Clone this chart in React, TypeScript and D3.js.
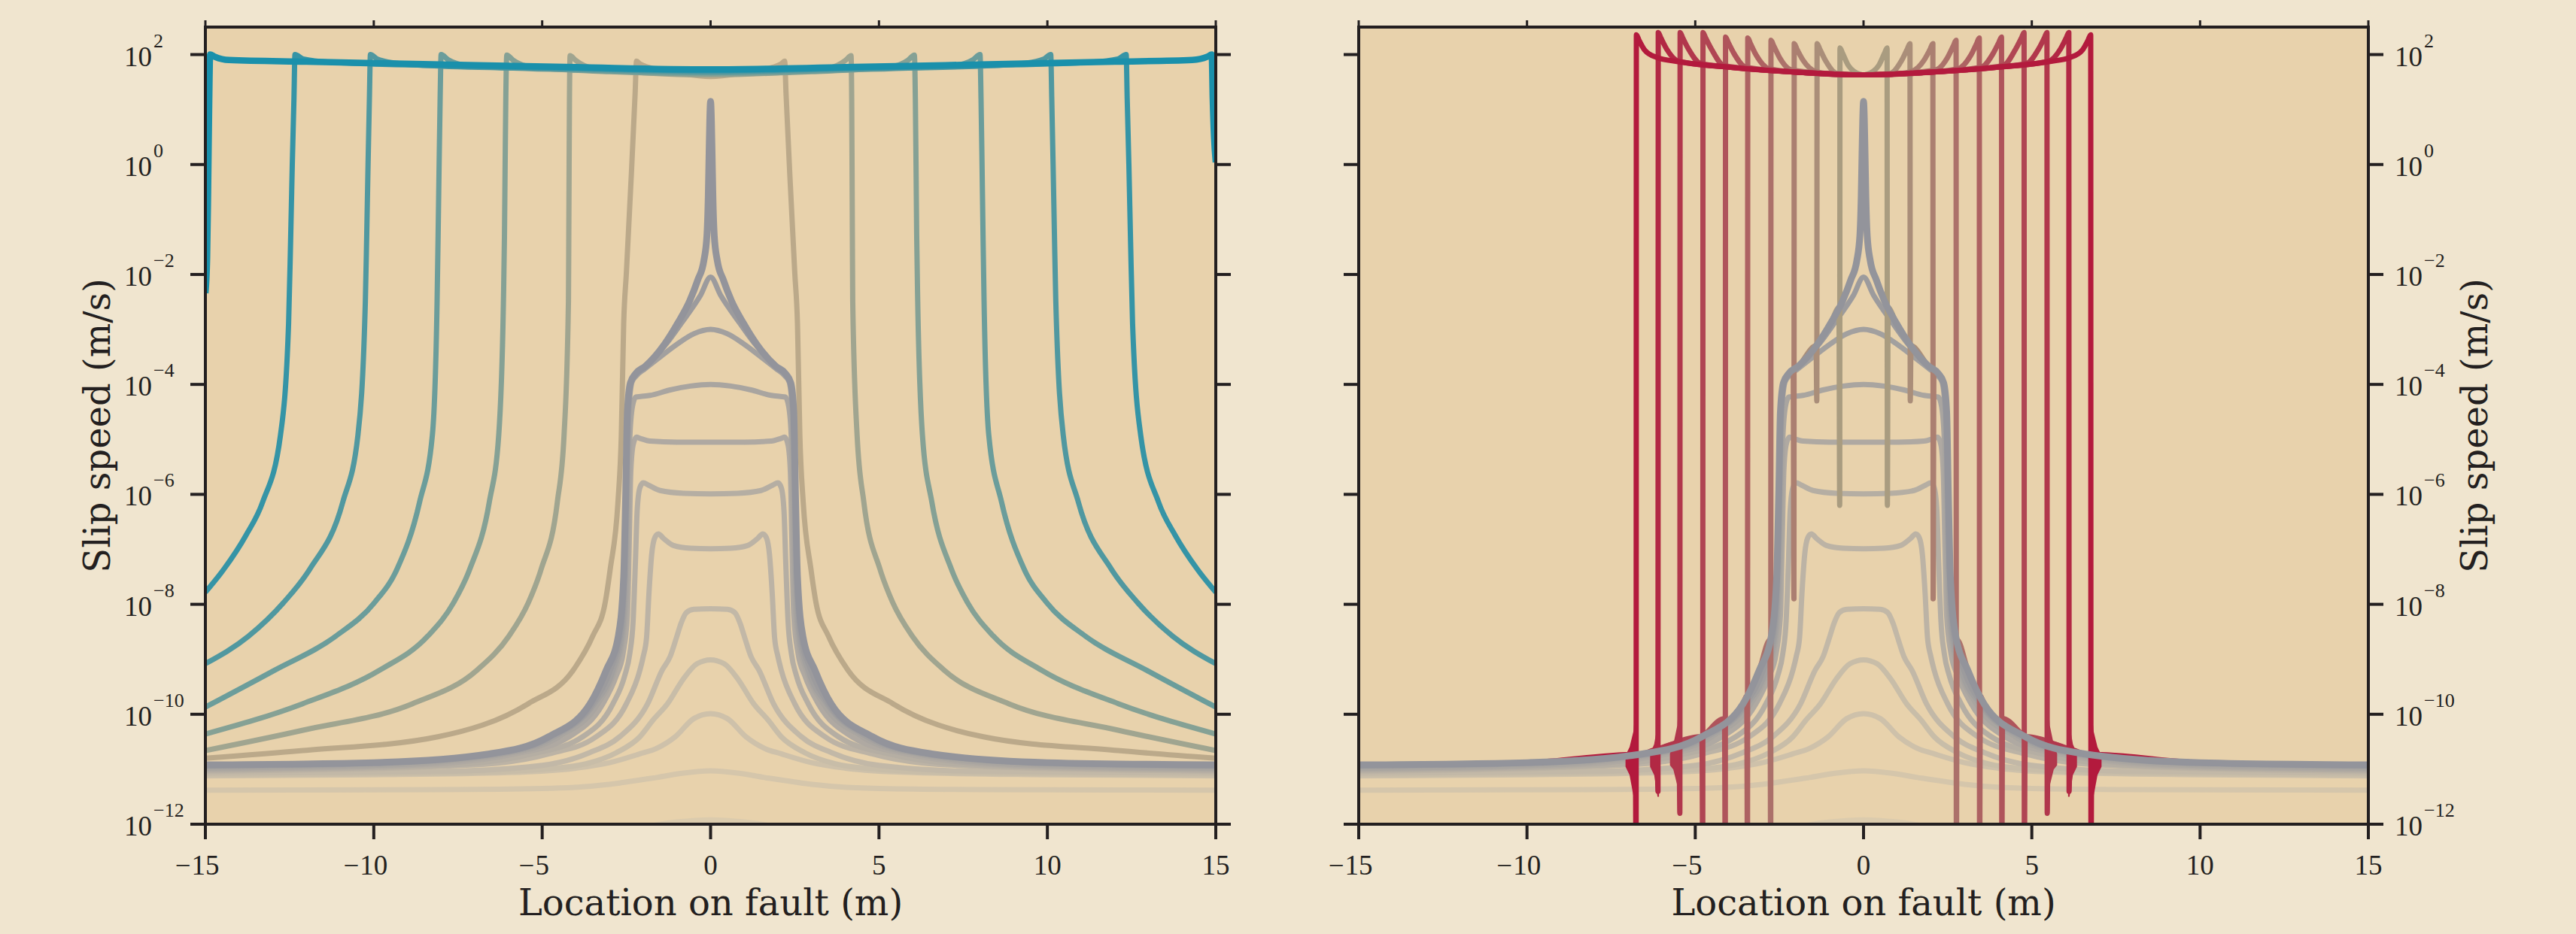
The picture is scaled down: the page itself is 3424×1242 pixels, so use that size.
import React from "react";
import * as d3 from "d3";

type Pt = [number, number];

// ---------- layout / style ----------
const WIDTH = 3424;
const HEIGHT = 1242;
const TOP = 36;
const BOTTOM = 1096;
const FIG_BG = "#F0E5CF";
const AX_BG = "#E8D2AC";
const INK = "#231F20";

// ---------- axes data ----------
const X_DOMAIN: [number, number] = [-15, 15];
const Y_DOMAIN: [number, number] = [1e-12, Math.pow(10, 2.5)];
const X_TICKS = [-15, -10, -5, 0, 5, 10, 15];
const Y_TICK_EXPONENTS = [2, 0, -2, -4, -6, -8, -10, -12];
const X_LABEL = "Location on fault (m)";
const Y_LABEL = "Slip speed (m/s)";

// ---------- nucleation profiles: half profiles [x (m), log10 V] for x >= 0 ----------
const NUC_0: Pt[] = [[0, -11.92], [1, -11.96], [2, -12.05], [3, -12.15], [4.5, -12.25], [7, -12.3], [15, -12.3]];
const NUC_1: Pt[] = [[0, -11.03], [0.8, -11.07], [1.6, -11.15], [2.7, -11.25], [3.8, -11.32], [5, -11.35], [8, -11.37], [15, -11.38]];
const NUC_2: Pt[] = [[0, -9.99], [0.5, -10.08], [1.05, -10.41], [1.6, -10.62], [2.1, -10.72], [3, -10.88], [4, -10.98], [6, -11.06], [10, -11.1], [15, -11.12]];
const NUC_3: Pt[] = [[0, -9.01], [0.4, -9.08], [0.8, -9.35], [1.28, -9.81], [1.7, -10.1], [2.1, -10.41], [2.8, -10.7], [3.7, -10.9], [5, -11.0], [8, -11.07], [15, -11.1]];
const NUC_4: Pt[] = [[0, -8.08], [0.5, -8.09], [0.72, -8.15], [0.88, -8.35], [1.0, -8.58], [1.2, -8.95], [1.44, -9.2], [1.87, -9.81], [2.7, -10.41], [3.6, -10.7], [5, -10.93], [8, -11.04], [15, -11.07]];
const NUC_5: Pt[] = [[0, -6.99], [0.6, -6.98], [1.1, -6.93], [1.4, -6.8], [1.55, -6.72], [1.65, -6.78], [1.75, -7.1], [1.83, -7.8], [1.9, -8.6], [2.0, -8.95], [2.1, -9.2], [2.5, -9.81], [3.4, -10.41], [4.8, -10.72], [7, -10.92], [15, -11.04]];
const NUC_6: Pt[] = [[0, -5.99], [0.8, -5.98], [1.5, -5.93], [1.85, -5.83], [2.0, -5.79], [2.1, -5.88], [2.18, -6.3], [2.23, -7.2], [2.3, -8.3], [2.4, -8.9], [2.55, -9.3], [2.9, -9.81], [3.8, -10.41], [5.3, -10.72], [8, -10.93], [15, -11.02]];
const NUC_7: Pt[] = [[0, -5.05], [1, -5.05], [1.8, -5.03], [2.1, -4.98], [2.2, -4.96], [2.3, -5.1], [2.37, -5.6], [2.42, -7.0], [2.47, -8.2], [2.6, -8.9], [2.8, -9.3], [3.2, -9.81], [4.2, -10.41], [5.8, -10.72], [9, -10.93], [15, -11.0]];
const NUC_8: Pt[] = [[0, -4.0], [0.6, -4.03], [1.2, -4.1], [1.8, -4.2], [2.08, -4.22], [2.22, -4.23], [2.32, -4.4], [2.4, -5], [2.45, -6.5], [2.5, -7.8], [2.6, -8.6], [2.85, -9.2], [3.35, -9.81], [4.5, -10.41], [6.1, -10.72], [9.5, -10.92], [15, -10.98]];
const NUC_9: Pt[] = [[0, -3.0], [0.5, -3.08], [1.0, -3.27], [1.5, -3.5], [1.96, -3.72], [2.2, -3.84], [2.33, -3.95], [2.42, -4.4], [2.47, -5.5], [2.52, -7.3], [2.62, -8.5], [2.9, -9.2], [3.45, -9.81], [4.65, -10.41], [6.3, -10.72], [10, -10.9], [15, -10.95]];
const NUC_10: Pt[] = [[0, -2.05], [0.3, -2.38], [0.86, -2.88], [1.3, -3.25], [1.7, -3.52], [2.0, -3.7], [2.22, -3.82], [2.36, -3.95], [2.45, -4.4], [2.5, -5.5], [2.55, -7.3], [2.66, -8.5], [2.98, -9.2], [3.5, -9.81], [4.75, -10.41], [6.45, -10.72], [10, -10.89], [15, -10.94]];
const SPIKE: Pt[] = [[0, 1.15], [0.025, 0.8], [0.045, 0.2], [0.07, -0.6], [0.11, -1.3], [0.2, -1.75], [0.38, -2.1], [0.62, -2.48], [0.97, -2.88], [1.37, -3.27], [1.94, -3.67], [2.22, -3.8], [2.38, -3.97], [2.47, -4.5], [2.52, -6], [2.58, -7.5], [2.74, -8.58], [3.1, -9.2], [3.58, -9.81], [4.81, -10.41], [6.56, -10.72], [10, -10.88], [15, -10.92]];
const NUCLEATION: Pt[][] = [NUC_0, NUC_1, NUC_2, NUC_3, NUC_4, NUC_5, NUC_6, NUC_7, NUC_8, NUC_9, NUC_10];

// ---------- left panel: rupture fronts (half profiles) ----------
const FRONT_1: Pt[] = [[0, 1.6], [1, 1.67], [1.8, 1.76], [2.1, 1.83], [2.2, 1.88], [2.24, 1.3], [2.35, -0.15], [2.5, -1.97], [2.58, -2.89], [2.65, -4.92], [2.75, -6.14], [2.98, -7.36], [3.13, -7.97], [3.5, -8.58], [4.08, -9.2], [5.42, -9.81], [8.1, -10.41], [12.1, -10.66], [15, -10.8]];
const FRONT_2: Pt[] = [[0, 1.63], [2, 1.67], [3.5, 1.75], [4.02, 1.9], [4.17, 1.98], [4.19, 1.2], [4.2, 0], [4.21, -1.3], [4.22, -2.48], [4.35, -4.92], [4.55, -6.14], [5.03, -7.36], [5.41, -7.97], [5.99, -8.58], [6.94, -9.2], [8.86, -9.81], [12.1, -10.29], [15, -10.66]];
const FRONT_3: Pt[] = [[0, 1.65], [3, 1.69], [5.3, 1.77], [5.87, 1.9], [6.05, 1.99], [6.08, 1.2], [6.1, 0], [6.12, -1.3], [6.15, -2.48], [6.29, -4.92], [6.57, -6.14], [7.15, -7.36], [7.63, -7.97], [8.4, -8.58], [9.83, -9.2], [12.12, -9.81], [15, -10.36]];
const FRONT_4: Pt[] = [[0, 1.67], [4, 1.72], [7.2, 1.8], [7.8, 1.91], [8.0, 2.0], [8.03, 1.2], [8.06, 0], [8.09, -1.3], [8.12, -2.48], [8.26, -4.92], [8.64, -6.14], [9.31, -7.36], [9.98, -7.97], [11.13, -8.58], [12.95, -9.2], [15, -9.87]];
const FRONT_5: Pt[] = [[0, 1.69], [4, 1.74], [8, 1.79], [9.3, 1.84], [9.9, 1.92], [10.1, 2.0], [10.13, 1.2], [10.17, 0], [10.21, -1.3], [10.25, -2.48], [10.47, -4.92], [10.92, -6.14], [11.9, -7.36], [12.68, -7.97], [13.72, -8.58], [15, -9.08]];
const FRONT_6: Pt[] = [[0, 1.71], [4, 1.75], [8, 1.8], [11.3, 1.86], [12.1, 1.92], [12.34, 2.0], [12.37, 1.2], [12.42, 0], [12.47, -1.4], [12.53, -2.9], [12.77, -4.92], [13.3, -6.14], [13.8, -6.75], [14.45, -7.36], [15, -7.78]];
const FRONT_7: Pt[] = [[0, 1.73], [4, 1.77], [8, 1.82], [12, 1.87], [14.3, 1.9], [14.72, 1.96], [14.86, 2.0], [14.89, 1.0], [14.92, -0.5], [14.95, -1.7], [15, -2.34]];
// the last front is slightly ahead on the positive side: right half differs
const FRONT_7_RIGHT: Pt[] = [[0, 1.73], [4, 1.77], [8, 1.82], [12, 1.87], [14.3, 1.9], [14.75, 1.96], [14.88, 2.0], [14.91, 1.2], [14.95, 0.5], [15, 0.04]];
const LEFT_FRONTS: Pt[][] = [FRONT_1, FRONT_2, FRONT_3, FRONT_4, FRONT_5, FRONT_6, FRONT_7];
const LEFT_FRONTS_RIGHT_OVERRIDE: (Pt[] | null)[] = [null, null, null, null, null, null, FRONT_7_RIGHT];

// ---------- right panel: fronts (interior half profiles up to the front peak) ----------
const RED_FRONTS = [0.7, 1.38, 2.06, 2.75, 3.44, 4.1, 4.77, 5.45, 6.1, 6.75];
const RED_DIPS = [-6.2, -4.3, -7.9, -13, -13, -13, -13, -11.8, -11.4, -13];
const RED_1: Pt[] = [[0, 1.63], [0.1, 1.64], [0.45, 1.8], [0.62, 2.02], [0.7, 2.12]];
const RED_2: Pt[] = [[0, 1.63], [0.8, 1.66], [1.12, 1.88], [1.3, 2.1], [1.38, 2.2]];
const RED_3: Pt[] = [[0, 1.63], [1, 1.65], [1.45, 1.7], [1.8, 1.9], [1.98, 2.1], [2.06, 2.2]];
const RED_4: Pt[] = [[0, 1.63], [1, 1.65], [2.15, 1.72], [2.5, 1.95], [2.67, 2.16], [2.75, 2.26]];
const RED_5: Pt[] = [[0, 1.63], [1.5, 1.66], [2.8, 1.74], [3.19, 1.99], [3.36, 2.2], [3.44, 2.3]];
const RED_6: Pt[] = [[0, 1.63], [2, 1.68], [3.5, 1.77], [3.85, 2.02], [4.02, 2.22], [4.1, 2.32]];
const RED_7: Pt[] = [[0, 1.63], [2, 1.68], [4.15, 1.8], [4.52, 2.1], [4.69, 2.3], [4.77, 2.4]];
const RED_8: Pt[] = [[0, 1.63], [2, 1.68], [4, 1.77], [4.85, 1.84], [5.2, 2.1], [5.37, 2.3], [5.45, 2.4]];
const RED_9: Pt[] = [[0, 1.63], [2, 1.68], [4, 1.77], [5.5, 1.88], [5.85, 2.1], [6.02, 2.3], [6.1, 2.4]];
const RED_10: Pt[] = [[0, 1.63], [2, 1.68], [4, 1.77], [5.5, 1.87], [6.15, 1.95], [6.5, 2.08], [6.67, 2.26], [6.75, 2.36]];
const RED_INTERIORS: Pt[][] = [RED_1, RED_2, RED_3, RED_4, RED_5, RED_6, RED_7, RED_8, RED_9, RED_10];

// ringing ahead of the outer fronts: [distance ahead of front, upper log10 V, lower log10 V]
const RING_8: number[][] = [[0, -9.6, -11.8], [0.06, -10.2, -11.3], [0.18, -10.55, -11.0], [0.28, -10.72, -10.92]];
const RING_9: number[][] = [[0, -10.2, -11.5], [0.1, -10.55, -11.1], [0.22, -10.72, -10.95]];
const RING_10: number[][] = [[0, -9.8, -12.3], [0.06, -10.3, -11.5], [0.18, -10.6, -11.1], [0.3, -10.75, -10.95]];
const RINGS: { index: number; data: number[][] }[] = [
  { index: 7, data: RING_8 },
  { index: 8, data: RING_9 },
  { index: 9, data: RING_10 },
];

// ---------- helpers ----------
function mirror(half: Pt[], rightHalf?: Pt[] | null): Pt[] {
  const neg = half.filter((p) => p[0] > 0).map((p) => [-p[0], p[1]] as Pt).reverse();
  return [...neg, ...(rightHalf || half)];
}
function interpHalf(half: Pt[], x: number): number {
  for (let i = 1; i < half.length; i++) {
    if (half[i][0] >= x) {
      const [x0, y0] = half[i - 1];
      const [x1, y1] = half[i];
      return y0 + ((y1 - y0) * (x - x0)) / (x1 - x0);
    }
  }
  return half[half.length - 1][1];
}
function redHalf(i: number): Pt[] {
  const xf = RED_FRONTS[i];
  const back = interpHalf(SPIKE, xf + 0.03);
  const tail = SPIKE.filter((p) => p[0] > xf + 0.08);
  return [...RED_INTERIORS[i], [xf + 0.008, RED_DIPS[i]], [xf + 0.03, back], ...tail];
}

const nucColor = d3.interpolateRgb("#DBCBAD", "#9C9B9D");
const tealColor = d3.interpolateRgb("#BBA98A", "#1A90AB");
const redColor = d3.interpolateRgb("#A99C80", "#B31A3D");
const SPIKE_COLOR = "#93949B";

function Panel({ x0, x1, side }: { x0: number; x1: number; side: "left" | "right" }) {
  const xs = d3.scaleLinear().domain(X_DOMAIN).range([x0, x1]);
  const ys = d3.scaleLog().domain(Y_DOMAIN).range([BOTTOM, TOP]);
  const line = d3
    .line<Pt>()
    .x((d) => xs(d[0]))
    .y((d) => ys(Math.pow(10, d[1])))
    .curve(d3.curveMonotoneX);
  const clipId = `clip-${side}`;

  const nucPaths = NUCLEATION.map((half, i) => (
    <path key={`n${i}`} d={line(mirror(half)) || ""} fill="none" stroke={nucColor(i / (NUCLEATION.length - 1))} strokeWidth={7} strokeLinejoin="round" />
  ));

  let dynPaths: React.ReactNode[] = [];
  if (side === "left") {
    dynPaths = LEFT_FRONTS.map((half, i) => (
      <path key={`f${i}`} d={line(mirror(half, LEFT_FRONTS_RIGHT_OVERRIDE[i])) || ""} fill="none" stroke={tealColor(i / (LEFT_FRONTS.length - 1))} strokeWidth={i === LEFT_FRONTS.length - 1 ? 8.5 : 7} strokeLinejoin="round" />
    ));
  } else {
    dynPaths = RED_INTERIORS.map((_, i) => {
      const c = redColor(i / (RED_INTERIORS.length - 1));
      const ring = RINGS.find((r) => r.index === i);
      const areaEls: React.ReactNode[] = [];
      if (ring) {
        const xf = RED_FRONTS[i];
        [1, -1].forEach((s) => {
          const pts = ring.data.map((r) => [s * (xf + r[0]), r[1], r[2]]);
          pts.sort((a, b) => a[0] - b[0]);
          const area = d3
            .area<number[]>()
            .x((d) => xs(d[0]))
            .y0((d) => ys(Math.pow(10, d[2])))
            .y1((d) => ys(Math.pow(10, d[1])))
            .curve(d3.curveLinear);
          areaEls.push(<path key={`ring${i}${s}`} d={area(pts) || ""} fill={c} stroke={c} strokeWidth={2} />);
        });
      }
      return (
        <g key={`r${i}`}>
          <path d={line(mirror(redHalf(i))) || ""} fill="none" stroke={c} strokeWidth={7} strokeLinejoin="round" />
          {areaEls}
        </g>
      );
    });
  }

  const yTicks = Y_TICK_EXPONENTS.map((e) => ys(Math.pow(10, e)));

  return (
    <g>
      <defs>
        <clipPath id={clipId}>
          <rect x={x0} y={TOP} width={x1 - x0} height={BOTTOM - TOP} />
        </clipPath>
      </defs>
      <rect x={x0} y={TOP} width={x1 - x0} height={BOTTOM - TOP} fill={AX_BG} />
      <g clipPath={`url(#${clipId})`}>
        {nucPaths}
        {dynPaths}
        <path d={line(mirror(SPIKE)) || ""} fill="none" stroke={SPIKE_COLOR} strokeWidth={9} strokeLinejoin="round" />
      </g>
      {/* spines */}
      <rect x={x0} y={TOP} width={x1 - x0} height={BOTTOM - TOP} fill="none" stroke={INK} strokeWidth={4} />
      {/* x ticks */}
      {X_TICKS.map((t) => (
        <g key={`xt${t}`}>
          <line x1={xs(t)} x2={xs(t)} y1={BOTTOM} y2={BOTTOM + 20} stroke={INK} strokeWidth={4} />
          <line x1={xs(t)} x2={xs(t)} y1={TOP} y2={TOP - 9} stroke={INK} strokeWidth={3} />
        </g>
      ))}
      {/* y ticks both sides */}
      {yTicks.map((y, i) => (
        <g key={`yt${i}`}>
          <line x1={x0} x2={x0 - 20} y1={y} y2={y} stroke={INK} strokeWidth={4} />
          <line x1={x1} x2={x1 + 20} y1={y} y2={y} stroke={INK} strokeWidth={4} />
        </g>
      ))}
      {/* x tick labels */}
      {X_TICKS.map((t) => {
        const abs = Math.abs(t);
        const digits = String(abs).length;
        return (
          <g key={`xl${t}`} fontFamily="'Liberation Serif', serif" fontSize={37} fill={INK}>
            <text x={xs(t)} y={1163} textAnchor="middle">{abs}</text>
            {t < 0 && (
              <text x={xs(t) - digits * 9.25 - 1} y={1163} textAnchor="end">{"\u2212"}</text>
            )}
          </g>
        );
      })}
      {/* y tick labels */}
      {Y_TICK_EXPONENTS.map((e, i) => (
        <text key={`yl${e}`} x={side === "left" ? 165 : 3183} y={yTicks[i] + 15} fontFamily="'Liberation Serif', serif" fontSize={37} fill={INK}>
          10
          <tspan dx={2} dy={-25} fontSize={26}>{e < 0 ? `\u2212${-e}` : `${e}`}</tspan>
        </text>
      ))}
      {/* axis labels */}
      <text x={(x0 + x1) / 2} y={1217} textAnchor="middle" fontFamily="'DejaVu Serif', serif" fontSize={48} fill={INK}>
        {X_LABEL}
      </text>
      <text
        transform={`translate(${side === "left" ? 146 : 3306},566) rotate(-90)`}
        textAnchor="middle"
        fontFamily="'DejaVu Serif', serif"
        fontSize={48}
        fill={INK}
      >
        {Y_LABEL}
      </text>
    </g>
  );
}

export default function App() {
  return (
    <svg
      width={WIDTH}
      height={HEIGHT}
      viewBox={`0 0 ${WIDTH} ${HEIGHT}`}
      style={{ position: "absolute", left: 0, top: 0, display: "block" }}
    >
      <rect x={0} y={0} width={WIDTH} height={HEIGHT} fill={FIG_BG} />
      <Panel x0={273} x1={1616} side="left" />
      <Panel x0={1806} x1={3148} side="right" />
    </svg>
  );
}
